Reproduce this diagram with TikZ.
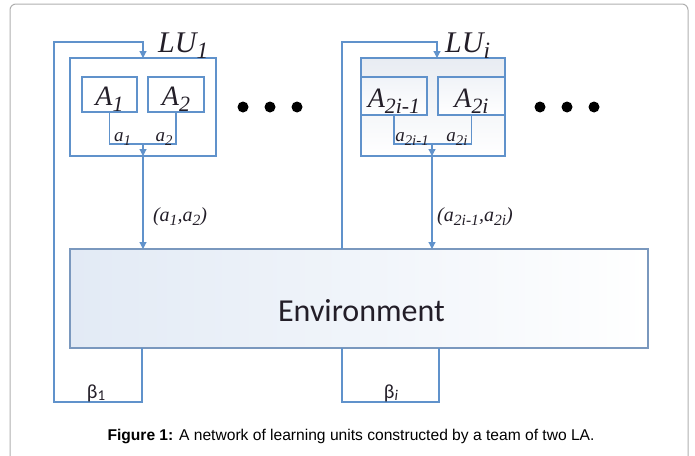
\documentclass[tikz,border=0pt]{standalone}
\usepackage{fontspec}
\usepackage{graphicx}
\setmainfont{Liberation Serif}
\newfontfamily\calib{Carlito}
\newfontfamily\arialfont{Liberation Sans}
\usetikzlibrary{arrows.meta}
\definecolor{wire}{RGB}{96,146,203}
\definecolor{envline}{RGB}{122,152,190}
\definecolor{frame}{RGB}{175,175,175}
\definecolor{envfill}{RGB}{226,234,245}
\definecolor{ink}{RGB}{35,30,40}
% lowered, reduced index used for all subscripts
\newcommand\idx[1]{\raisebox{-0.22em}{\scalebox{0.78}{#1}}}
\newcommand\fs[1]{\fontsize{#1}{#1}\selectfont}
\begin{document}
\begin{tikzpicture}[x=1pt,y=-1pt,
  box/.style={draw=wire, line width=1.2pt, inner sep=0pt, outer sep=0pt, fill=white},
  wireline/.style={draw=wire, line width=1.2pt},
  arr/.style={wireline, -{Triangle[width=7pt,length=7pt]}},
  lbl/.style={text=ink, inner sep=0pt, anchor=base},
  dot/.style={circle, fill=black, inner sep=0pt, minimum size=11pt}]
\useasboundingbox (0,0) rectangle (695,455);

% outer figure frame
\draw[frame, line width=1pt, rounded corners=6pt] (10,4) rectangle (688,480);

% environment
\node[draw=envline, line width=1.2pt, inner sep=0pt, outer sep=0pt,
      minimum width=578pt, minimum height=99pt,
      left color=envfill, right color=white] (env) at (359,298.5) {};
\node[lbl, text=ink] (envtxt) at (361.5,321) {\calib\fs{32}Environment};

% learning unit 1
\node[box, minimum width=146pt, minimum height=98pt] (lu1) at (143,107) {};
\node[box, minimum width=55pt, minimum height=35pt] (aA) at (109.5,94.5) {};
\node[box, minimum width=56pt, minimum height=35pt] (aB) at (176,94.5) {};
\node[lbl] (tA) at (109.5,105) {\fs{28}\itshape A\idx{1}};
\node[lbl] (tB) at (176,105) {\fs{28}\itshape A\idx{2}};
\node[lbl, anchor=base west] (tlu1) at (158,52) {\fs{30}\itshape LU\idx{1}};

% learning unit i
\node[box, minimum width=144pt, minimum height=98pt,
      top color={rgb,255:red,232;green,236;blue,242}, bottom color=white] (lui) at (433,107) {};
\node[box, minimum width=66pt, minimum height=38pt,
      top color={rgb,255:red,240;green,243;blue,248}, bottom color=white] (aC) at (394,96) {};
\node[box, minimum width=67pt, minimum height=38pt,
      top color={rgb,255:red,240;green,243;blue,248}, bottom color=white] (aD) at (471.5,96) {};
\node[lbl] (tC) at (394,107) {\fs{28}\itshape A\idx{2i-1}};
\node[lbl] (tD) at (471.5,107) {\fs{28}\itshape A\idx{2i}};
\node[lbl, anchor=base west] (tlui) at (445,52) {\fs{30}\itshape LU\idx{i}};

% joins of the two actions inside each unit
\coordinate (m1) at (143,144);
\coordinate (mi) at (432,144);
\draw[wireline] (aA.south) |- (m1) -| (aB.south);
\draw[wireline] (aC.south) |- (mi) -| (aD.south);
\draw[arr] (m1) -- (m1 |- lu1.south);
\draw[arr] (mi) -- (mi |- lui.south);
\node[lbl] (oa1) at (122.5,141.5) {\fs{19}\itshape a\idx{1}};
\node[lbl] (oa2) at (164,141.5) {\fs{19}\itshape a\idx{2}};
\node[lbl] (oa3) at (412,141.5) {\fs{19}\itshape a\idx{2i-1}};
\node[lbl] (oa4) at (457,141.5) {\fs{19}\itshape a\idx{2i}};

% joint actions sent to the environment
\draw[arr] (m1 |- lu1.south) -- (m1 |- env.north);
\draw[arr] (mi |- lui.south) -- (mi |- env.north);
\node[lbl] (act1) at (180,221) {\fs{20}\itshape (a\idx{1},a\idx{2})};
\node[lbl] (acti) at (475,221) {\fs{20}\itshape (a\idx{2i-1},a\idx{2i})};

% reinforcement loop for unit 1
\coordinate (b1) at (142,402);
\coordinate (c1) at (54,402);
\coordinate (c2) at (54,42);
\coordinate (t1) at (143,42);
\draw[arr] (b1 |- env.south) -- (b1) -- (c1) -- (c2) -- (t1) -- (t1 |- lu1.north);
\node[lbl] (beta1) at (96,398) {\calib\fs{20}β\raisebox{-0.1em}{\scalebox{0.75}{1}}};

% reinforcement loop for unit i
\coordinate (li) at (342,42);
\coordinate (ti) at (437,42);
\coordinate (bli) at (342,402);
\coordinate (bri) at (439,402);
\draw[arr] (li |- env.north) -- (li) -- (ti) -- (ti |- lui.north);
\draw[wireline] (bli |- env.south) -- (bli) -- (bri) -- (bri |- env.south);
\node[lbl] (betai) at (391,398) {\calib\fs{20}β\raisebox{-0.1em}{\scalebox{0.75}{\itshape i}}};

% ellipsis dots
\node[dot] (d1) at (243,107) {};
\node[dot] (d2) at (270,107) {};
\node[dot] (d3) at (297,107) {};
\node[dot] (d4) at (540,107) {};
\node[dot] (d5) at (567,107) {};
\node[dot] (d6) at (594,107) {};

% caption
\node[lbl, text=black] (cap) at (351,440)
  {\arialfont\fs{15.6}\textbf{Figure 1:} A network of learning units constructed by a team of two LA.};
\end{tikzpicture}
\end{document}
